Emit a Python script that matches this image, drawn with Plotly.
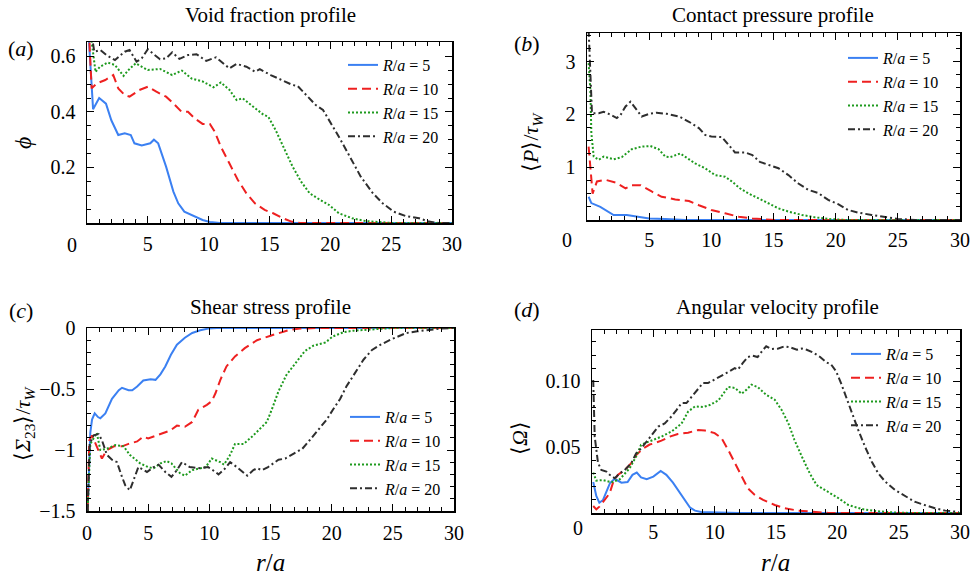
import plotly.graph_objects as go

W, H = 971, 576
FONT = "Liberation Serif, Times New Roman, Times, serif"

# ---------------- data ----------------
series_labels = ["<i>R</i>/<i>a</i> = 5", "<i>R</i>/<i>a</i> = 10",
                 "<i>R</i>/<i>a</i> = 15", "<i>R</i>/<i>a</i> = 20"]

# (a) void fraction phi vs r/a
A5 = [(0.1, 0.70), (0.35, 0.5), (0.5, 0.41), (1.0, 0.45), (1.56, 0.43), (2.0, 0.37), (2.57, 0.317),
      (3.1, 0.323), (3.6, 0.317), (3.9, 0.287), (4.5, 0.279), (5.2, 0.287), (5.5, 0.30), (5.85, 0.287),
      (6.5, 0.203), (7.1, 0.113), (7.5, 0.071), (8.0, 0.041), (8.85, 0.025), (9.5, 0.011), (10.1, 0.004),
      (10.9, 0.0), (30, 0.0)]
A10 = [(0.15, 0.70), (0.38, 0.485), (0.8, 0.503), (1.5, 0.515), (2.16, 0.533), (2.57, 0.485), (3.1, 0.461),
       (3.5, 0.455), (4.3, 0.479), (5.0, 0.491), (5.7, 0.473), (6.5, 0.455), (7.1, 0.431), (7.76, 0.401),
       (8.3, 0.401), (8.85, 0.377), (9.5, 0.357), (10.1, 0.357), (10.5, 0.329), (11.0, 0.275), (11.7, 0.215),
       (12.4, 0.155), (13.1, 0.107), (13.8, 0.071), (14.6, 0.047), (15.3, 0.035), (16.1, 0.017), (16.8, 0.005),
       (17.5, 0.0), (30, 0.0)]
A15 = [(0.25, 0.70), (0.7, 0.544), (1.07, 0.563), (1.7, 0.578), (2.3, 0.569), (3.0, 0.530), (3.5, 0.555),
       (4.0, 0.575), (5.0, 0.551), (6.0, 0.555), (7.0, 0.533), (7.8, 0.549), (8.6, 0.52), (9.5, 0.51),
       (10.4, 0.489), (11.0, 0.506), (11.7, 0.48), (12.3, 0.443), (12.8, 0.449), (13.6, 0.42), (14.5, 0.39),
       (14.9, 0.383), (15.5, 0.335), (16.4, 0.25), (16.9, 0.203), (17.6, 0.149), (18.3, 0.107), (19.1, 0.085),
       (19.9, 0.065), (20.7, 0.035), (21.8, 0.017), (22.9, 0.007), (24.3, 0.002), (25.1, 0.0), (30, 0.0)]
A20 = [(0.3, 0.70), (0.6, 0.617), (1.1, 0.623), (1.6, 0.605), (2.3, 0.587), (3.1, 0.617), (3.5, 0.623),
       (4.07, 0.581), (4.5, 0.593), (5.0, 0.626), (5.4, 0.611), (6.0, 0.59), (6.5, 0.593), (7.0, 0.615),
       (7.6, 0.591), (8.3, 0.605), (9.0, 0.608), (9.8, 0.584), (10.6, 0.597), (11.7, 0.557), (12.3, 0.573),
       (13.1, 0.563), (13.8, 0.545), (14.2, 0.554), (15.1, 0.533), (16.0, 0.515), (16.9, 0.497), (17.3, 0.494),
       (18.0, 0.461), (18.8, 0.425), (19.4, 0.407), (19.9, 0.371), (20.7, 0.311), (21.6, 0.239), (22.5, 0.167),
       (23.5, 0.107), (24.3, 0.071), (25.2, 0.041), (26.2, 0.025), (27.3, 0.017), (28.1, 0.005), (28.9, 0.0),
       (30, 0.0)]

# (b) contact pressure <P>/tau_W
B5 = [(0.13, 0.44), (0.35, 0.32), (1.07, 0.25), (2.14, 0.095), (3.2, 0.095), (4.15, 0.063), (5.0, 0.03),
      (6.3, 0.02), (7.9, 0.0), (30, 0.0)]
B10 = [(0.13, 1.39), (0.45, 0.5), (0.8, 0.73), (1.5, 0.76), (2.3, 0.71), (3.1, 0.6), (3.6, 0.66), (4.3, 0.66),
       (5.2, 0.54), (6.0, 0.44), (7.1, 0.39), (8.2, 0.36), (9.0, 0.28), (10.0, 0.19), (11.1, 0.126),
       (12.2, 0.063), (13.3, 0.03), (14.1, 0.013), (15.1, 0.0), (30, 0.0)]
B15 = [(0.13, 2.97), (0.27, 2.46), (0.35, 1.64), (0.54, 1.2), (0.94, 1.14), (1.34, 1.2), (2.14, 1.15),
       (2.8, 1.19), (3.6, 1.34), (4.4, 1.39), (5.1, 1.40), (5.76, 1.34), (6.3, 1.2), (6.7, 1.19), (7.5, 1.26),
       (7.9, 1.2), (8.7, 1.07), (9.5, 0.98), (10.3, 0.85), (11.1, 0.82), (11.65, 0.73), (12.3, 0.6),
       (13.0, 0.5), (13.8, 0.41), (14.6, 0.32), (15.4, 0.22), (16.2, 0.16), (17.3, 0.095), (18.35, 0.05),
       (19.4, 0.02), (20.8, 0.0), (30, 0.0)]
B20 = [(0.13, 3.6), (0.3, 2.65), (0.4, 2.02), (0.94, 2.02), (1.34, 2.05), (1.74, 2.01), (2.4, 1.93),
       (2.7, 1.99), (3.1, 2.15), (3.5, 2.24), (4.0, 2.08), (4.4, 1.96), (5.0, 2.01), (5.6, 2.03), (6.4, 2.01),
       (7.4, 1.96), (8.2, 1.86), (9.0, 1.74), (9.5, 1.61), (10.0, 1.58), (10.85, 1.57), (11.4, 1.42),
       (11.9, 1.28), (12.7, 1.28), (13.3, 1.23), (13.9, 1.1), (14.7, 1.04), (15.4, 0.98), (16.2, 0.85),
       (17.0, 0.69), (17.8, 0.57), (18.6, 0.51), (19.4, 0.38), (20.2, 0.30), (21.0, 0.19), (21.8, 0.14),
       (22.9, 0.095), (24.0, 0.05), (25.0, 0.02), (26.4, 0.0), (30, 0.0)]

# (c) shear stress <Sigma_23>/tau_W
C5 = [(0.05, -1.5), (0.14, -1.17), (0.27, -0.86), (0.41, -0.75), (0.63, -0.70), (0.9, -0.73), (1.09, -0.74),
      (1.5, -0.70), (1.69, -0.66), (2.04, -0.58), (2.6, -0.51), (2.86, -0.49), (3.4, -0.51), (3.7, -0.51),
      (4.1, -0.48), (4.6, -0.43), (5.2, -0.42), (5.6, -0.425), (6.0, -0.38), (6.4, -0.315), (6.86, -0.22),
      (7.35, -0.137), (8.0, -0.08), (8.6, -0.041), (9.26, -0.019), (9.9, -0.005), (10.6, 0.0), (30, 0.0)]
C10 = [(0.05, -1.5), (0.19, -0.92), (0.41, -0.88), (0.68, -0.95), (1.09, -1.04), (1.22, -1.07), (1.63, -1.0),
       (2.2, -0.97), (2.86, -0.97), (3.4, -0.95), (4.1, -0.93), (4.6, -0.89), (5.0, -0.905), (5.7, -0.88),
       (6.26, -0.86), (6.8, -0.84), (7.35, -0.80), (8.0, -0.81), (8.6, -0.77), (9.1, -0.67), (9.8, -0.63),
       (10.2, -0.60), (10.5, -0.535), (10.9, -0.425), (11.4, -0.315), (12.1, -0.233), (12.9, -0.165),
       (13.9, -0.10), (15.0, -0.063), (15.8, -0.041), (16.6, -0.014), (17.4, -0.005), (18.8, 0.0), (30, 0.0)]
C15 = [(0.05, -1.5), (0.27, -0.95), (0.8, -0.86), (1.09, -1.0), (1.63, -0.99), (2.3, -0.96), (3.0, -0.97),
       (3.5, -1.04), (4.35, -1.11), (5.0, -1.14), (5.45, -1.15), (6.0, -1.11), (6.5, -1.09), (6.9, -1.11),
       (7.6, -1.19), (8.0, -1.21), (8.6, -1.165), (9.26, -1.15), (9.7, -1.14), (10.2, -1.07), (10.9, -1.10),
       (11.2, -1.12), (11.7, -1.04), (12.1, -0.95), (12.8, -0.95), (13.5, -0.89), (14.3, -0.81), (14.7, -0.77),
       (15.1, -0.67), (15.65, -0.52), (16.3, -0.385), (17.0, -0.29), (17.8, -0.19), (18.5, -0.145),
       (19.5, -0.118), (20.1, -0.069), (21.0, -0.033), (21.8, -0.022), (22.9, -0.014), (24.0, -0.005),
       (25.0, 0.0), (30, 0.0)]
C20 = [(0.05, -1.5), (0.22, -0.95), (0.54, -0.88), (0.95, -0.87), (1.22, -0.92), (1.63, -1.04), (2.04, -1.08),
       (2.45, -1.10), (2.86, -1.22), (3.13, -1.29), (3.5, -1.33), (3.8, -1.25), (4.2, -1.14), (4.9, -1.18),
       (5.45, -1.14), (5.85, -1.12), (6.4, -1.18), (6.9, -1.22), (7.35, -1.165), (7.76, -1.10), (8.4, -1.14),
       (9.26, -1.15), (9.9, -1.14), (10.5, -1.18), (10.75, -1.20), (11.3, -1.15), (11.7, -1.10), (12.25, -1.14),
       (13.1, -1.21), (13.6, -1.165), (13.9, -1.15), (14.3, -1.165), (14.8, -1.14), (15.65, -1.08),
       (16.2, -1.07), (16.9, -1.03), (17.6, -0.99), (18.2, -0.92), (19.06, -0.81), (19.6, -0.75), (20.1, -0.67),
       (20.7, -0.58), (21.2, -0.48), (21.9, -0.37), (22.6, -0.26), (23.3, -0.18), (24.0, -0.137),
       (24.8, -0.096), (25.5, -0.063), (26.1, -0.041), (27.0, -0.027), (28.0, -0.014), (28.9, -0.005),
       (30, 0.0)]

# (d) angular velocity <Omega>
D5 = [(0.1, 0.0236), (0.35, 0.013), (0.6, 0.0078), (0.9, 0.0099), (1.17, 0.016), (1.47, 0.0228),
      (1.85, 0.026), (2.4, 0.023), (2.9, 0.0235), (3.3, 0.029), (3.65, 0.0307), (4.0, 0.027), (4.46, 0.0256),
      (5.0, 0.0276), (5.6, 0.032), (6.06, 0.029), (6.6, 0.023), (7.1, 0.016), (7.6, 0.009), (8.0, 0.004),
      (8.4, 0.0018), (8.9, 0.0008), (10.3, 0.0003), (12.0, 0.0), (30, 0.0)]
D10 = [(0.1, 0.0053), (0.35, 0.0028), (0.63, 0.005), (1.03, 0.0099), (1.44, 0.015), (1.7, 0.0226),
       (2.1, 0.029), (2.67, 0.0327), (3.2, 0.0378), (3.6, 0.044), (4.16, 0.049), (4.7, 0.052), (5.1, 0.053),
       (5.66, 0.055), (6.34, 0.058), (7.0, 0.060), (7.83, 0.061), (8.65, 0.063), (9.2, 0.0627), (10.0, 0.0607),
       (10.55, 0.057), (11.1, 0.048), (11.64, 0.0378), (12.2, 0.0277), (12.7, 0.0188), (13.27, 0.0137),
       (13.95, 0.0099), (14.9, 0.0061), (15.7, 0.0036), (16.8, 0.0018), (17.9, 0.0008), (19.3, 0.0), (30, 0.0)]
D15 = [(0.1, 0.0307), (0.35, 0.0246), (0.9, 0.025), (1.58, 0.0233), (2.26, 0.0256), (2.67, 0.030),
       (3.07, 0.034), (3.6, 0.043), (4.0, 0.0518), (4.57, 0.054), (5.0, 0.0556), (5.66, 0.058), (6.5, 0.062),
       (7.3, 0.068), (7.83, 0.077), (8.4, 0.081), (9.05, 0.0805), (9.6, 0.082), (10.3, 0.0855), (10.7, 0.091),
       (11.1, 0.0957), (11.64, 0.095), (12.2, 0.0906), (12.6, 0.0937), (13.0, 0.0975), (13.5, 0.0957),
       (14.2, 0.0898), (14.9, 0.086), (15.45, 0.0784), (16.0, 0.0683), (16.5, 0.0556), (17.1, 0.043),
       (17.75, 0.0302), (18.3, 0.0213), (19.25, 0.0162), (20.1, 0.0112), (20.9, 0.0061), (22.0, 0.003),
       (23.1, 0.0015), (24.4, 0.0005), (26.0, 0.0), (30, 0.0)]
D20 = [(0.1, 0.101), (0.22, 0.058), (0.49, 0.038), (0.76, 0.0327), (1.17, 0.0315), (1.44, 0.029),
       (1.85, 0.0264), (2.26, 0.030), (2.67, 0.0327), (3.2, 0.0378), (3.6, 0.0454), (4.0, 0.049),
       (4.57, 0.0556), (5.0, 0.0607), (5.4, 0.0657), (5.93, 0.068), (6.47, 0.0733), (6.9, 0.0784),
       (7.3, 0.0835), (7.7, 0.0835), (8.24, 0.0898), (8.65, 0.0949), (9.05, 0.0987), (9.46, 0.0987),
       (10.0, 0.1013), (10.7, 0.105), (11.2, 0.1076), (11.64, 0.110), (11.9, 0.109), (12.3, 0.114),
       (12.7, 0.1185), (13.1, 0.1195), (13.5, 0.1185), (13.95, 0.124), (14.2, 0.1266), (14.6, 0.1246),
       (15.2, 0.1249), (15.7, 0.1266), (16.1, 0.126), (16.7, 0.124), (17.1, 0.1249), (17.5, 0.124),
       (18.0, 0.122), (18.6, 0.1185), (19.1, 0.1145), (19.5, 0.1127), (19.9, 0.1076), (20.3, 0.0987),
       (20.75, 0.0873), (21.16, 0.0759), (21.7, 0.0632), (22.25, 0.0505), (22.8, 0.0391), (23.33, 0.0302),
       (23.9, 0.0239), (24.7, 0.0175), (25.5, 0.0129), (26.3, 0.0086), (27.1, 0.0061), (27.96, 0.0036),
       (28.8, 0.0018), (29.9, 0.0008)]

panel_series = [[A5, A10, A15, A20], [B5, B10, B15, B20], [C5, C10, C15, C20], [D5, D10, D15, D20]]

panel_titles = ["Void fraction profile", "Contact pressure profile",
                "Shear stress profile", "Angular velocity profile"]
panel_tags = ["(<i>a</i>)", "(<i>b</i>)", "(<i>c</i>)", "(<i>d</i>)"]
ylabels = ["<i>ϕ</i>",
           "⟨<i>P</i>⟩/<i>τ</i><sub><i>W</i></sub>",
           "⟨<i>Σ</i><sub>23</sub>⟩/<i>τ</i><sub><i>W</i></sub>",
           "⟨<i>Ω</i>⟩"]
x_ticks = [0, 5, 10, 15, 20, 25, 30]
y_ranges = [[0, 0.652], [0, 3.54], [-1.5, 0], [0, 0.139]]
y_tickvals = [[0.2, 0.4, 0.6], [1, 2, 3], [-1.5, -1, -0.5, 0], [0.05, 0.10]]
y_ticktext = [["0.2", "0.4", "0.6"], ["1", "2", "3"], ["−1.5", "−1", "−0.5", "0"], ["0.05", "0.10"]]
y_minor = [0.05, 0.25, 0.1, 0.01]

# ---------------- styling ----------------
colors = ["#3b80f2", "#ee2020", "#1e9a1e", "#2e2e2e"]
dashes = ["solid", "9px,5px", "2px,2px", "7px,3px,2px,3px"]

# plot-area boxes in pixels: (left, top, right, bottom)
boxes = [(87, 42, 452, 223), (587, 33, 960, 220), (87, 328, 454, 511), (592, 330, 960, 513)]
x_standoff = [2, 1, 3, 0]


def fx(p):
    return p / W


def fy(p):
    return 1 - p / H


fig = go.Figure()

legend_pos = [  # (x px, y px, anchor)
    (343, 48, "top"), (843, 41, "top"), (345, 506, "bottom"), (846, 337, "top")]

for i, group in enumerate(panel_series):
    xa = "x" if i == 0 else f"x{i+1}"
    ya = "y" if i == 0 else f"y{i+1}"
    lg = "legend" if i == 0 else f"legend{i+1}"
    for j, s in enumerate(group):
        fig.add_trace(go.Scatter(
            x=[p[0] for p in s], y=[p[1] for p in s], mode="lines",
            name=series_labels[j], xaxis=xa, yaxis=ya, legend=lg,
            line=dict(color=colors[j], width=2, dash=dashes[j]),
            hoverinfo="skip"))

layout = dict(template="none", width=W, height=H, margin=dict(l=0, r=0, t=0, b=0, pad=0, autoexpand=False),
              paper_bgcolor="white", plot_bgcolor="white", showlegend=True,
              font=dict(family=FONT, color="black", size=20))

tick_font = dict(family=FONT, size=20, color="black")
for i in range(4):
    l, t, r, b = boxes[i]
    xkey = "xaxis" if i == 0 else f"xaxis{i+1}"
    ykey = "yaxis" if i == 0 else f"yaxis{i+1}"
    yname = "y" if i == 0 else f"y{i+1}"
    xname = "x" if i == 0 else f"x{i+1}"
    xt = x_ticks if i == 2 else x_ticks[1:]
    layout[xkey] = dict(
        domain=[fx(l), fx(r)], anchor=yname, range=[0, 30], automargin=False,
        tickvals=xt, ticktext=[str(v) for v in xt],
        showline=True, linecolor="black", linewidth=1.5, mirror="ticks",
        ticks="inside", ticklen=7, tickwidth=1, tickcolor="black",
        showgrid=False, zeroline=False, tickfont=tick_font, ticklabelstandoff=x_standoff[i],
        minor=dict(ticks="inside", ticklen=4, tickwidth=1, tickcolor="black",
                   dtick=1, tick0=0, showgrid=False))
    layout[ykey] = dict(
        domain=[fy(b), fy(t)], anchor=xname, range=y_ranges[i], automargin=False,
        tickvals=y_tickvals[i], ticktext=y_ticktext[i],
        showline=True, linecolor="black", linewidth=1.5, mirror="ticks",
        ticks="inside", ticklen=7, tickwidth=1, tickcolor="black",
        showgrid=False, zeroline=False, tickfont=tick_font, ticklabelstandoff=6,
        minor=dict(ticks="inside", ticklen=4, tickwidth=1, tickcolor="black",
                   dtick=y_minor[i], tick0=0, showgrid=False))
    lx, ly, anc = legend_pos[i]
    lkey = "legend" if i == 0 else f"legend{i+1}"
    layout[lkey] = dict(x=fx(lx), y=fy(ly), xanchor="left", yanchor=anc,
                        bgcolor="rgba(0,0,0,0)", borderwidth=0, itemwidth=30,
                        tracegroupgap=0, font=dict(family=FONT, size=16, color="black"))

fig.update_layout(**layout)

ann = []
title_pos = [(270, 15), (773, 15), (270, 307), (777, 307)]
tag_pos = [(21, 49), (527, 43), (21, 310), (527, 309)]
ylab_pos = [(23, 143), (532, 143), (24, 424), (519, 438)]
ylab_size = [24, 22, 22, 22]
for i in range(4):
    ann.append(dict(text=panel_titles[i], x=fx(title_pos[i][0]), y=fy(title_pos[i][1]),
                    xref="paper", yref="paper", showarrow=False, xanchor="center", yanchor="middle",
                    font=dict(family=FONT, size=21, color="black")))
    ann.append(dict(text=panel_tags[i], x=fx(tag_pos[i][0]), y=fy(tag_pos[i][1]),
                    xref="paper", yref="paper", showarrow=False, xanchor="center", yanchor="middle",
                    font=dict(family=FONT, size=22, color="black")))
    ann.append(dict(text=ylabels[i], x=fx(ylab_pos[i][0]), y=fy(ylab_pos[i][1]), textangle=-90,
                    xref="paper", yref="paper", showarrow=False, xanchor="center", yanchor="middle",
                    font=dict(family=FONT, size=ylab_size[i], color="black")))
for (x, y) in [(270, 562), (775, 562)]:
    ann.append(dict(text="<i>r</i>/<i>a</i>", x=fx(x), y=fy(y), xref="paper", yref="paper",
                    showarrow=False, xanchor="center", yanchor="middle",
                    font=dict(family=FONT, size=25, color="black")))
for (x, y) in [(72, 245), (567, 240), (578, 528)]:
    ann.append(dict(text="0", x=fx(x), y=fy(y), xref="paper", yref="paper",
                    showarrow=False, xanchor="center", yanchor="middle",
                    font=dict(family=FONT, size=20, color="black")))
fig.update_layout(annotations=ann)

fig.write_html("out.html", config={"displayModeBar": False, "staticPlot": True},
               post_script="document.body.style.margin='0';document.body.style.overflow='hidden';")
